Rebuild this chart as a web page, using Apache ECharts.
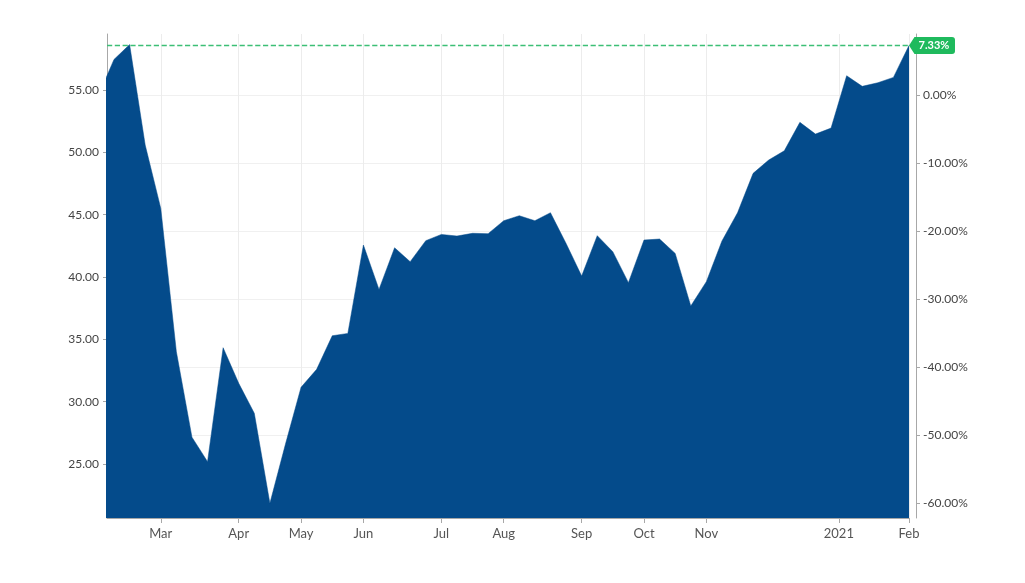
<!DOCTYPE html>
<html>
<head>
<meta charset="utf-8">
<script src="https://cdn.jsdelivr.net/npm/echarts@6/dist/echarts.min.js"></script>
<style>
html,body{margin:0;padding:0;background:#fff;}
#chart{width:1025px;height:583px;}
</style>
</head>
<body>
<div id="chart"></div>
<script>
// Weekly observations (Mondays), Feb 2020 – Feb 2021
const weeks = [
  '2020-02-03','2020-02-10','2020-02-17','2020-02-24','2020-03-02','2020-03-09','2020-03-16','2020-03-23','2020-03-30',
  '2020-04-06','2020-04-13','2020-04-20','2020-04-27','2020-05-04','2020-05-11','2020-05-18','2020-05-25',
  '2020-06-01','2020-06-08','2020-06-15','2020-06-22','2020-06-29','2020-07-06','2020-07-13','2020-07-20','2020-07-27',
  '2020-08-03','2020-08-10','2020-08-17','2020-08-24','2020-08-31','2020-09-07','2020-09-14','2020-09-21','2020-09-28',
  '2020-10-05','2020-10-12','2020-10-19','2020-10-26','2020-11-02','2020-11-09','2020-11-16','2020-11-23','2020-11-30',
  '2020-12-07','2020-12-14','2020-12-21','2020-12-28','2021-01-04','2021-01-11','2021-01-18','2021-01-25','2021-02-01'
];
const values = [
  54.58, 57.46, 58.65, 50.59, 45.51, 34.01, 27.15, 25.19, 34.33,
  31.48, 29.07, 21.85, 26.60, 31.16, 32.60, 35.29, 35.48,
  42.57, 39.01, 42.35, 41.23, 42.92, 43.42, 43.29, 43.51, 43.48,
  44.52, 44.92, 44.52, 45.16, 42.70, 40.08, 43.32, 42.03, 39.55,
  42.97, 43.05, 41.90, 37.68, 39.63, 42.89, 45.16, 48.32, 49.39,
  50.13, 52.41, 51.47, 51.95, 56.15, 55.30, 55.59, 56.02, 58.58
];
// x-axis month ticks (position in weeks) and their labels
const tickIndex = [4, 9, 13, 17, 22, 26, 31, 35, 39, 47.5, 52];
const tickLabel = ['Mar', 'Apr', 'May', 'Jun', 'Jul', 'Aug', 'Sep', 'Oct', 'Nov', '2021', 'Feb'];
// left axis (price) ticks and right axis (% change) ticks
const priceTicks = [25, 30, 35, 40, 45, 50, 55];
const pctTicks = [-60, -50, -40, -30, -20, -10, 0];
// visible range
const xMin = 0.55, xMax = 52;
const yMin = 20.67, yMax = 59.5;

const base = values[0];
const last = values[values.length - 1];
const lastPct = (last / base - 1) * 100;
const pMin = (yMin / base - 1) * 100;
const pMax = (yMax / base - 1) * 100;

const seriesData = values.map((v, i) => [i, v]);
const FONT = 'Lato, "Open Sans", sans-serif';
const GREEN_LINE = '#3cbf76';

const chart = echarts.init(document.getElementById('chart'), null, {renderer: 'canvas'});
chart.setOption({
  animation: false,
  backgroundColor: '#ffffff',
  grid: {left: 107, right: 116, top: 34, bottom: 65, containLabel: false},
  xAxis: {
    type: 'value',
    min: xMin, max: xMax,
    axisLine: {show: true, onZero: false, lineStyle: {color: '#a8a8a8', width: 1}},
    axisTick: {show: true, length: 5, lineStyle: {color: '#a8a8a8'}, customValues: tickIndex},
    axisLabel: {
      customValues: tickIndex,
      color: '#555', fontSize: 13, fontFamily: FONT, margin: 9,
      formatter: v => { const k = tickIndex.indexOf(v); return k >= 0 ? tickLabel[k] : ''; }
    },
    splitLine: {show: true, lineStyle: {color: '#ececec', width: 1}}
  },
  yAxis: [
    {
      type: 'value', position: 'left',
      min: yMin, max: yMax,
      axisLine: {show: true, onZero: false, lineStyle: {color: '#a8a8a8'}},
      axisTick: {show: true, length: 4, lineStyle: {color: '#a8a8a8'}, customValues: priceTicks},
      axisLabel: {customValues: priceTicks, color: '#444', fontSize: 12, fontFamily: FONT, margin: 8,
        formatter: v => v.toFixed(2)},
      splitLine: {show: false}
    },
    {
      type: 'value', position: 'right', offset: 7,
      min: pMin, max: pMax,
      axisLine: {show: true, onZero: false, lineStyle: {color: '#a8a8a8'}},
      axisTick: {show: true, length: 4, lineStyle: {color: '#a8a8a8'}, customValues: pctTicks},
      axisLabel: {customValues: pctTicks, color: '#444', fontSize: 12, fontFamily: FONT, margin: 7,
        formatter: v => v.toFixed(2) + '%'},
      splitLine: {show: true, lineStyle: {color: '#f0f0f0', width: 1}}
    }
  ],
  series: [{
    type: 'line',
    yAxisIndex: 0,
    data: seriesData,
    symbol: 'none',
    clip: true,
    lineStyle: {width: 0.5, color: '#044b8b'},
    areaStyle: {color: '#044b8b', opacity: 1, origin: 'start'},
    markLine: {
      silent: true, symbol: ['none', 'none'],
      lineStyle: {color: GREEN_LINE, type: 'dashed', width: 1.3, opacity: 1},
      label: {show: false},
      data: [{yAxis: last}]
    },
    markPoint: {
      silent: true,
      data: [{
        coord: [values.length - 1, last],
        symbol: 'path://M0,8.5 L5.5,0 L43,0 Q46,0 46,3 L46,14 Q46,17 43,17 L5.5,17 Z',
        symbolSize: [46, 17],
        symbolOffset: [23, 0],
        itemStyle: {color: '#1fba5d'},
        label: {
          show: true, position: 'inside', offset: [2, 0],
          formatter: lastPct.toFixed(2) + '%',
          color: '#fff', fontSize: 11, fontWeight: 'bold', fontFamily: FONT
        }
      }]
    }
  }]
});
</script>
</body>
</html>
